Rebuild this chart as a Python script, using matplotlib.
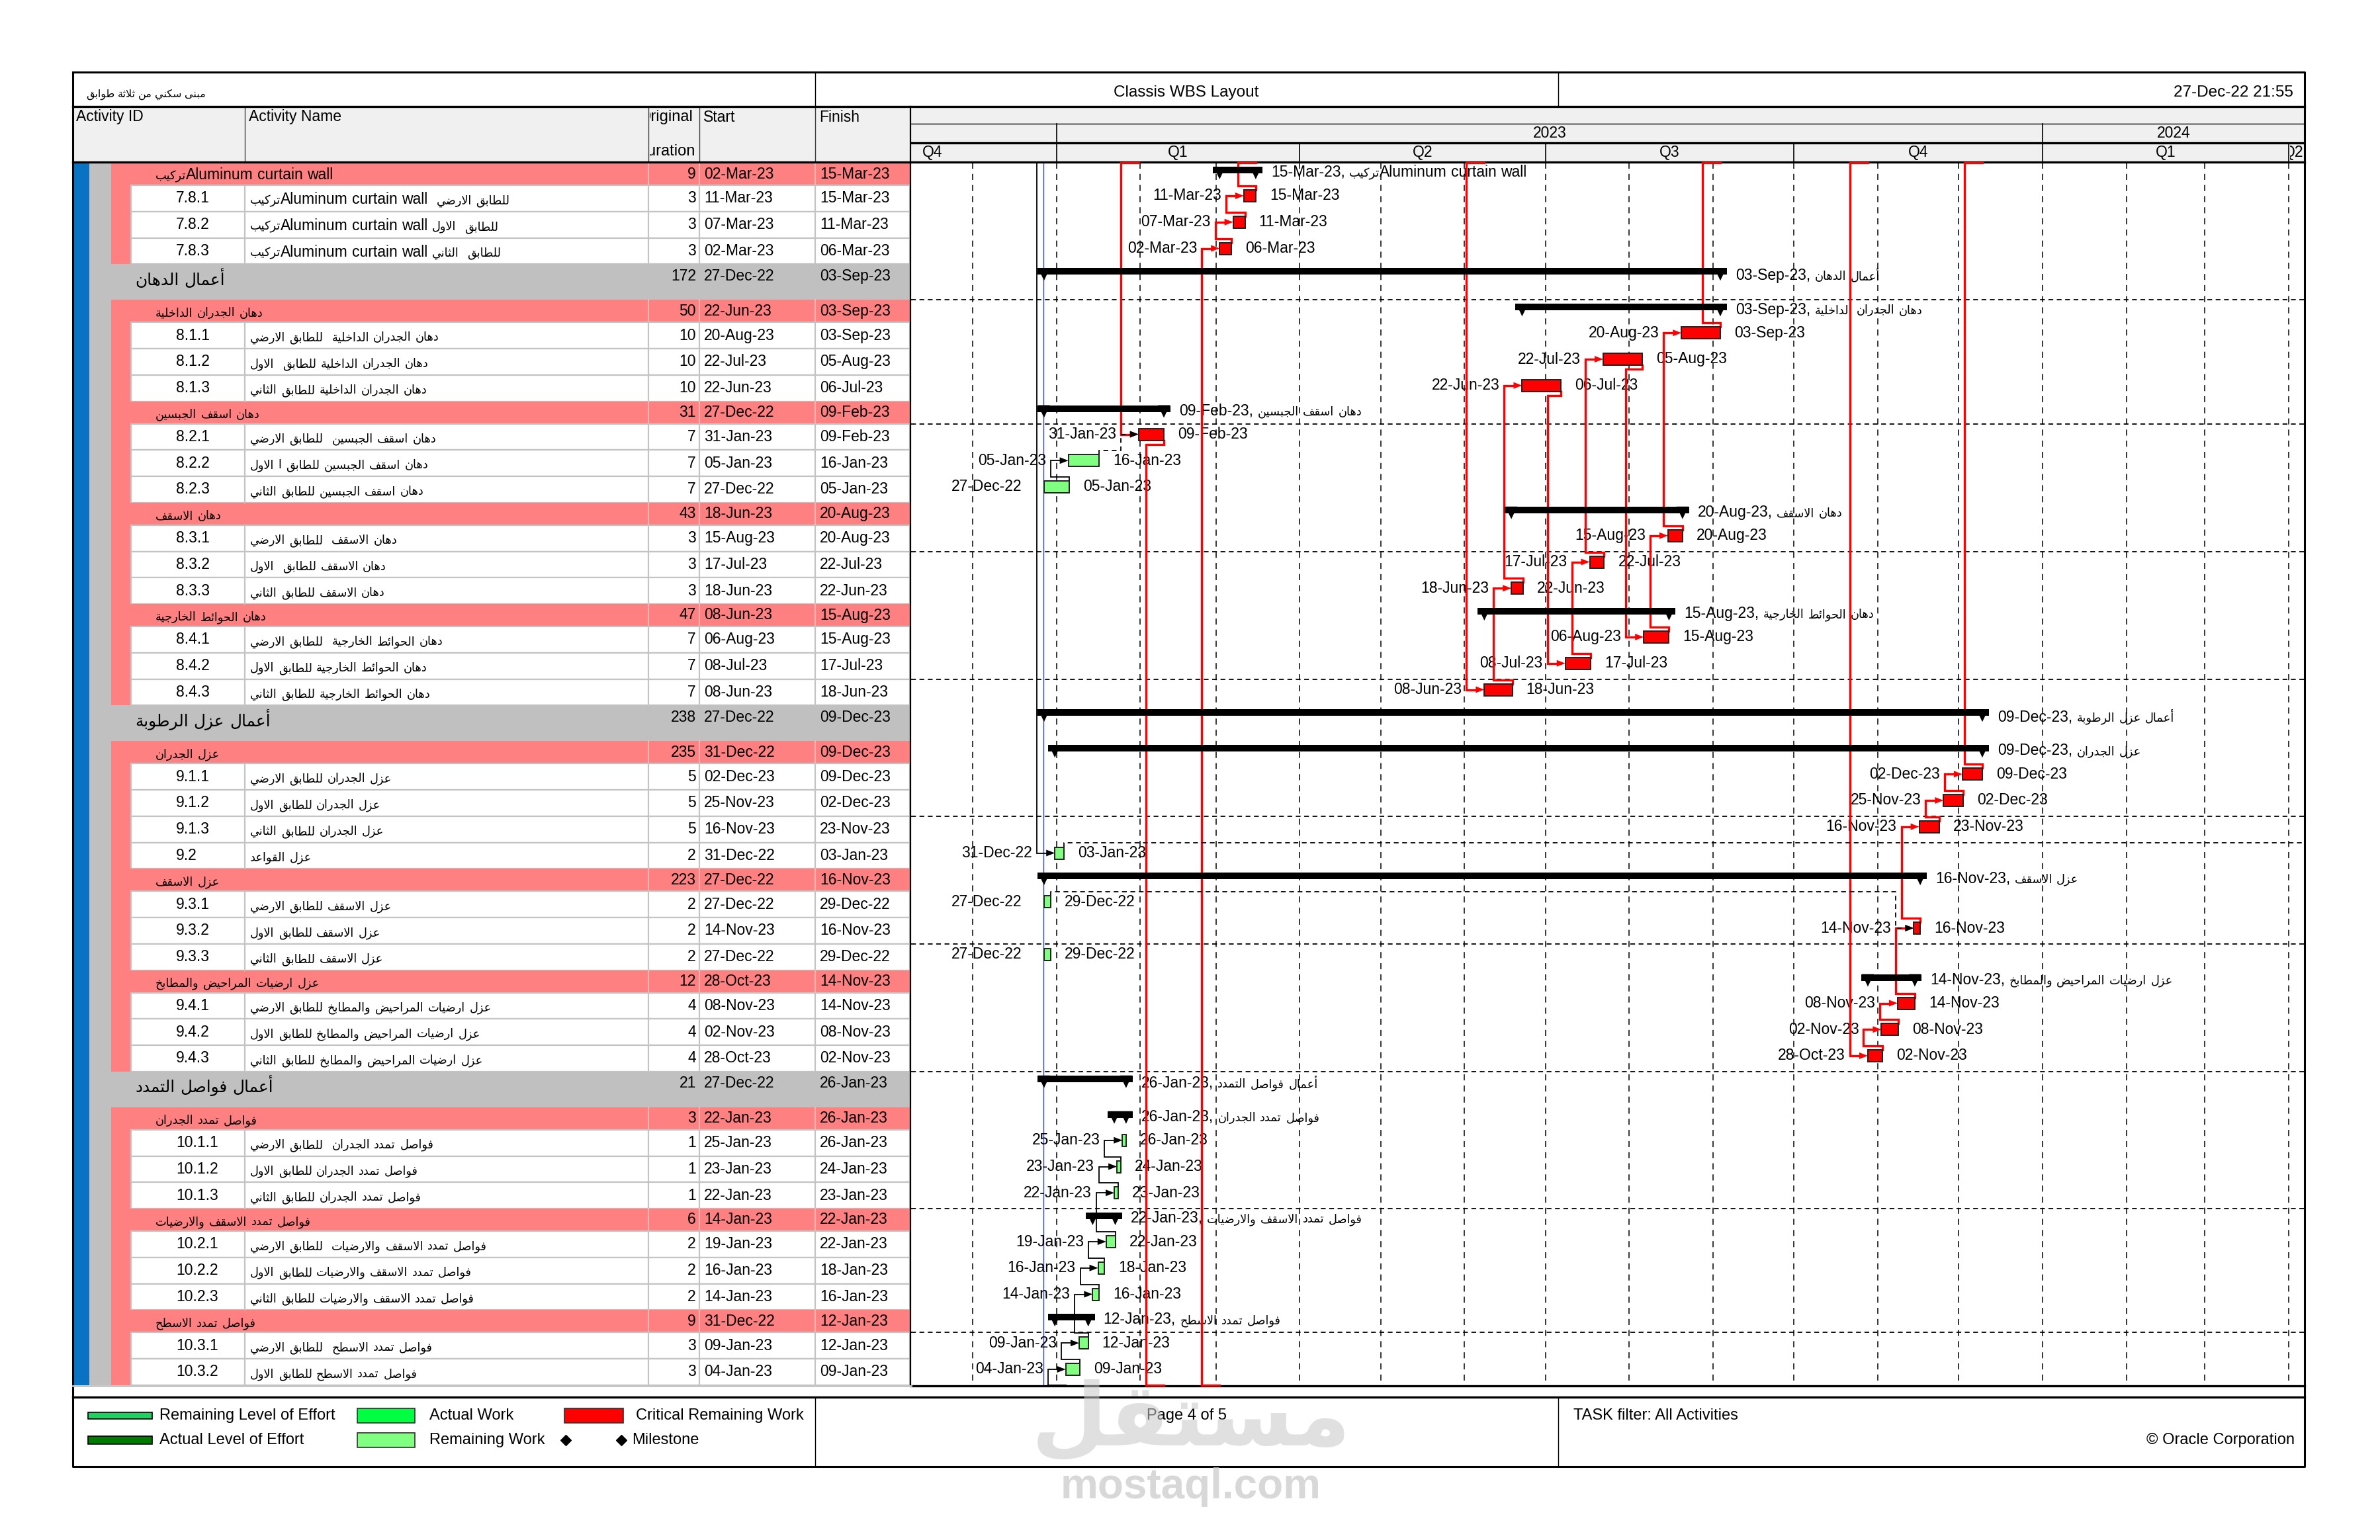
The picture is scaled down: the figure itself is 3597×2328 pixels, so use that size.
import matplotlib
matplotlib.use("Agg")
import matplotlib.pyplot as plt
import matplotlib.dates as mdates
from matplotlib.patches import Rectangle, Polygon
from matplotlib.transforms import offset_copy
from datetime import datetime

plt.rcParams['font.family'] = ['Liberation Sans', 'DejaVu Sans']

# ---------------- data ----------------
kinds = ['grp', 'task', 'task', 'task',
         'wbs', 'grp', 'task', 'task', 'task', 'grp', 'task', 'task', 'task',
         'grp', 'task', 'task', 'task', 'grp', 'task', 'task', 'task',
         'wbs', 'grp', 'task', 'task', 'task', 'task', 'grp', 'task', 'task', 'task',
         'grp', 'task', 'task', 'task',
         'wbs', 'grp', 'task', 'task', 'task', 'grp', 'task', 'task', 'task',
         'grp', 'task', 'task']

ids = ['', '7.8.1', '7.8.2', '7.8.3',
       '', '', '8.1.1', '8.1.2', '8.1.3', '', '8.2.1', '8.2.2', '8.2.3',
       '', '8.3.1', '8.3.2', '8.3.3', '', '8.4.1', '8.4.2', '8.4.3',
       '', '', '9.1.1', '9.1.2', '9.1.3', '9.2', '', '9.3.1', '9.3.2', '9.3.3',
       '', '9.4.1', '9.4.2', '9.4.3',
       '', '', '10.1.1', '10.1.2', '10.1.3', '', '10.2.1', '10.2.2', '10.2.3',
       '', '10.3.1', '10.3.2']

names = ['تركيبAluminum curtain wall',
         'تركيبAluminum curtain wall  للطابق الارضي',
         'تركيبAluminum curtain wall للطابق  الاول',
         'تركيبAluminum curtain wall للطابق  الثاني',
         'أعمال الدهان',
         'دهان الجدران الداخلية',
         'دهان الجدران الداخلية  للطابق الارضي',
         'دهان الجدران الداخلية للطابق  الاول',
         'دهان الجدران الداخلية للطابق الثاني',
         'دهان اسقف الجبسين',
         'دهان اسقف الجبسين  للطابق الارضي',
         'دهان اسقف الجبسين للطابق ا الاول',
         'دهان اسقف الجبسين للطابق الثاني',
         'دهان الاسقف',
         'دهان الاسقف  للطابق الارضي',
         'دهان الاسقف للطابق  الاول',
         'دهان الاسقف للطابق الثاني',
         'دهان الحوائط الخارجية',
         'دهان الحوائط الخارجية  للطابق الارضي',
         'دهان الحوائط الخارجية للطابق الاول',
         'دهان الحوائط الخارجية للطابق الثاني',
         'أعمال عزل الرطوبة',
         'عزل الجدران',
         'عزل الجدران للطابق الارضي',
         'عزل الجدران للطابق الاول',
         'عزل الجدران للطابق الثاني',
         'عزل القواعد',
         'عزل الاسقف',
         'عزل الاسقف للطابق الارضي',
         'عزل الاسقف للطابق الاول',
         'عزل الاسقف للطابق الثاني',
         'عزل ارضيات المراحيض والمطابخ',
         'عزل ارضيات المراحيض والمطابخ للطابق الارضي',
         'عزل ارضيات المراحيض والمطابخ للطابق الاول',
         'عزل ارضيات المراحيض والمطابخ للطابق الثاني',
         'أعمال فواصل التمدد',
         'فواصل تمدد الجدران',
         'فواصل تمدد الجدران  للطابق الارضي',
         'فواصل تمدد الجدران للطابق الاول',
         'فواصل تمدد الجدران للطابق الثاني',
         'فواصل تمدد الاسقف والارضيات',
         'فواصل تمدد الاسقف والارضيات  للطابق الارضي',
         'فواصل تمدد الاسقف والارضيات للطابق الاول',
         'فواصل تمدد الاسقف والارضيات للطابق الثاني',
         'فواصل تمدد الاسطح',
         'فواصل تمدد الاسطح  للطابق الارضي',
         'فواصل تمدد الاسطح للطابق الاول']

durations = [9, 3, 3, 3,
             172, 50, 10, 10, 10, 31, 7, 7, 7, 43, 3, 3, 3, 47, 7, 7, 7,
             238, 235, 5, 5, 5, 2, 223, 2, 2, 2, 12, 4, 4, 4,
             21, 3, 1, 1, 1, 6, 2, 2, 2, 9, 3, 3]

starts = ['02-Mar-23', '11-Mar-23', '07-Mar-23', '02-Mar-23',
          '27-Dec-22', '22-Jun-23', '20-Aug-23', '22-Jul-23', '22-Jun-23', '27-Dec-22',
          '31-Jan-23', '05-Jan-23', '27-Dec-22', '18-Jun-23', '15-Aug-23', '17-Jul-23',
          '18-Jun-23', '08-Jun-23', '06-Aug-23', '08-Jul-23', '08-Jun-23',
          '27-Dec-22', '31-Dec-22', '02-Dec-23', '25-Nov-23', '16-Nov-23', '31-Dec-22',
          '27-Dec-22', '27-Dec-22', '14-Nov-23', '27-Dec-22', '28-Oct-23', '08-Nov-23',
          '02-Nov-23', '28-Oct-23',
          '27-Dec-22', '22-Jan-23', '25-Jan-23', '23-Jan-23', '22-Jan-23', '14-Jan-23',
          '19-Jan-23', '16-Jan-23', '14-Jan-23', '31-Dec-22', '09-Jan-23', '04-Jan-23']

finishes = ['15-Mar-23', '15-Mar-23', '11-Mar-23', '06-Mar-23',
            '03-Sep-23', '03-Sep-23', '03-Sep-23', '05-Aug-23', '06-Jul-23', '09-Feb-23',
            '09-Feb-23', '16-Jan-23', '05-Jan-23', '20-Aug-23', '20-Aug-23', '22-Jul-23',
            '22-Jun-23', '15-Aug-23', '15-Aug-23', '17-Jul-23', '18-Jun-23',
            '09-Dec-23', '09-Dec-23', '09-Dec-23', '02-Dec-23', '23-Nov-23', '03-Jan-23',
            '16-Nov-23', '29-Dec-22', '16-Nov-23', '29-Dec-22', '14-Nov-23', '14-Nov-23',
            '08-Nov-23', '02-Nov-23',
            '26-Jan-23', '26-Jan-23', '26-Jan-23', '24-Jan-23', '23-Jan-23', '22-Jan-23',
            '22-Jan-23', '18-Jan-23', '16-Jan-23', '12-Jan-23', '12-Jan-23', '09-Jan-23']

is_critical = [False, True, True, True,
               False, False, True, True, True, False, True, False, False,
               False, True, True, True, False, True, True, True,
               False, False, True, True, True, False, False, False, True, False,
               False, True, True, True,
               False, False, False, False, False, False, False, False, False,
               False, False, False]

# relationships: (predecessor, successor, critical, dashed)
links = [('7.8.3', '7.8.2', True, False), ('7.8.2', '7.8.1', True, False),
         ('7.8.1', 'TOP', True, False), ('BOTTOM', '7.8.3', True, False),
         ('TOP', '8.2.1', True, False), ('8.2.1', 'BOTTOM', True, False),
         ('TOP', '8.4.3', True, False), ('8.4.3', '8.3.3', True, False),
         ('8.3.3', '8.1.3', True, False), ('8.1.3', '8.4.2', True, False),
         ('8.4.2', '8.3.2', True, False), ('8.3.2', '8.1.2', True, False),
         ('8.1.2', '8.4.1', True, False), ('8.4.1', '8.3.1', True, False),
         ('8.3.1', '8.1.1', True, False), ('8.1.1', 'TOP', True, False),
         ('TOP', '9.4.3', True, False), ('9.4.3', '9.4.2', True, False),
         ('9.4.2', '9.4.1', True, False), ('9.4.1', '9.3.2', True, False),
         ('9.3.2', '9.1.3', True, False), ('9.1.3', '9.1.2', True, False),
         ('9.1.2', '9.1.1', True, False), ('9.1.1', 'TOP', True, False),
         ('8.2.3', '8.2.2', False, False), ('8.2.2', '8.2.1', False, True),
         ('TOP', '9.2', False, False), ('9.2', 'RIGHT', False, True),
         ('9.3.1', '9.3.2', False, True),
         ('10.1.2', '10.1.1', False, False), ('10.1.3', '10.1.2', False, False),
         ('10.2.1', '10.1.3', False, False), ('10.2.2', '10.2.1', False, False),
         ('10.2.3', '10.2.2', False, False), ('10.3.1', '10.2.3', False, False),
         ('10.3.2', '10.3.1', False, False), ('BOTTOM', '10.3.2', False, False)]

data_date = '27-Dec-22'
quarters = ['Q4', 'Q1', 'Q2', 'Q3', 'Q4', 'Q1', 'Q2']
quarter_starts = ['01-Oct-22', '01-Jan-23', '01-Apr-23', '01-Jul-23', '01-Oct-23',
                  '01-Jan-24', '01-Apr-24', '01-Jul-24']
years = ['2023', '2024']
year_starts = ['01-Jan-23', '01-Jan-24', '01-Jan-25']

# ---------------- arabic shaping (presentation forms) ----------------
AR_FORMS = {
    '\u0621': (0xFE80, 1), '\u0622': (0xFE81, 2), '\u0623': (0xFE83, 2), '\u0624': (0xFE85, 2),
    '\u0625': (0xFE87, 2), '\u0626': (0xFE89, 4), '\u0627': (0xFE8D, 2), '\u0628': (0xFE8F, 4),
    '\u0629': (0xFE93, 2), '\u062A': (0xFE95, 4), '\u062B': (0xFE99, 4), '\u062C': (0xFE9D, 4),
    '\u062D': (0xFEA1, 4), '\u062E': (0xFEA5, 4), '\u062F': (0xFEA9, 2), '\u0630': (0xFEAB, 2),
    '\u0631': (0xFEAD, 2), '\u0632': (0xFEAF, 2), '\u0633': (0xFEB1, 4), '\u0634': (0xFEB5, 4),
    '\u0635': (0xFEB9, 4), '\u0636': (0xFEBD, 4), '\u0637': (0xFEC1, 4), '\u0638': (0xFEC5, 4),
    '\u0639': (0xFEC9, 4), '\u063A': (0xFECD, 4), '\u0641': (0xFED1, 4), '\u0642': (0xFED5, 4),
    '\u0643': (0xFED9, 4), '\u0644': (0xFEDD, 4), '\u0645': (0xFEE1, 4), '\u0646': (0xFEE5, 4),
    '\u0647': (0xFEE9, 4), '\u0648': (0xFEED, 2), '\u0649': (0xFEEF, 2), '\u064A': (0xFEF1, 4),
}
LAM_ALEF = {'\u0622': 0xFEF5, '\u0623': 0xFEF7, '\u0625': 0xFEF9, '\u0627': 0xFEFB}


def shape_ar(s):
    toks = []
    i = 0
    while i < len(s):
        c = s[i]
        if c == '\u0644' and i + 1 < len(s) and s[i + 1] in LAM_ALEF:
            toks.append(('la', s[i + 1]))
            i += 2
        else:
            toks.append(('c', c))
            i += 1

    def joins(t):
        if t[0] == 'la':
            return True, False
        f = AR_FORMS.get(t[1])
        if f is None:
            return False, False
        return f[1] > 1, f[1] == 4

    out = []
    for k, t in enumerate(toks):
        jp, jn = joins(t)
        before = k > 0 and joins(toks[k - 1])[1] and jp
        after = k + 1 < len(toks) and jn and joins(toks[k + 1])[0]
        if t[0] == 'la':
            out.append(chr(LAM_ALEF[t[1]] + (1 if before else 0)))
        elif t[1] in AR_FORMS:
            off = 3 if (before and after) else 1 if before else 2 if after else 0
            out.append(chr(AR_FORMS[t[1]][0] + off))
        else:
            out.append(t[1])
    return ''.join(out)


def is_rtl(c):
    o = ord(c)
    return 0x0600 <= o <= 0x06FF or 0xFB50 <= o <= 0xFEFF


def ar(s):
    s = shape_ar(s)
    n = len(s)
    cls = ['R' if is_rtl(c) else ('L' if c.isalnum() else 'N') for c in s]
    res = cls[:]
    i = 0
    while i < n:
        if cls[i] == 'N':
            j = i
            while j < n and cls[j] == 'N':
                j += 1
            prev = cls[i - 1] if i > 0 else 'L'
            nxt = cls[j] if j < n else 'L'
            d = 'R' if (prev == 'R' and nxt == 'R') else 'L'
            for k in range(i, j):
                res[k] = d
            i = j
        else:
            i += 1
    out = []
    i = 0
    while i < n:
        j = i
        while j < n and res[j] == res[i]:
            j += 1
        seg = s[i:j]
        out.append(seg[::-1] if res[i] == 'R' else seg)
        i = j
    return ''.join(out)


def d2n(s):
    return mdates.date2num(datetime.strptime(s, '%d-%b-%y'))


# ---------------- layout ----------------
W, H = 3598, 2328
X0, X1 = 110, 3483          # outer frame
GL, GR = 1377, 3483         # gantt area
ROW_Y0 = 246
RH = {'wbs': 54, 'grp': 34, 'task': 39.75}
BLUE, GRAY, PINK, HDR = '#0a72c2', '#c0c0c0', '#ff8080', '#f0f0f0'
RED, LGREEN = '#ff0000', '#80ff80'
FS = 16.5      # latin text
AFS = 12.8     # arabic text in mixed strings
PT = 100 / 72

n = len(kinds)
heights = [RH[k] for k in kinds]
tops = []
acc = 0
for h in heights:
    tops.append(acc)
    acc += h
total = acc

fig = plt.figure(figsize=(W / 100, H / 100), dpi=100)
renderer = fig.canvas.get_renderer()
ax = fig.add_axes([0, 0, 1, 1])
ax.set_xlim(0, W)
ax.set_ylim(H, 0)
ax.axis('off')


def put(axis, x, y, s, fs=FS, afs=AFS, dx=0, zorder=3, **kw):
    """left aligned text with arabic runs shaped and drawn at their own size"""
    runs = []
    for c in ar(s):
        kind = 'S' if c == ' ' else ('R' if is_rtl(c) else 'L')
        if runs and runs[-1][0] == kind:
            runs[-1][1] += c
        else:
            runs.append([kind, c])
    off = dx
    dy = -0.36 * fs * PT
    for kind, seg in runs:
        if kind == 'S':
            off += len(seg) * 0.278 * fs * PT
            continue
        tr = offset_copy(axis.transData, fig=fig, x=off, y=dy, units='dots')
        t = axis.text(x, y, seg, fontsize=afs if kind == 'R' else fs, ha='left',
                      va='baseline', transform=tr, zorder=zorder, **kw)
        off += t.get_window_extent(renderer).width


# ---- page title row ----
ax.add_patch(Rectangle((X0, 110), X1 - X0, 2107, fc='white', ec='none', zorder=0))
put(ax, 130, 141, 'مبنى سكني من ثلاثة طوابق', fs=11.5, afs=11.5)
ax.text(1793, 140, 'Classis WBS Layout', fontsize=17.5, va='center', ha='center')
ax.text(3466, 140, '27-Dec-22 21:55', fontsize=17.5, va='center', ha='right')
for x in (1232, 2355):
    ax.plot([x, x], [110, 161], color='black', lw=1)

# ---- column headers ----
ax.add_patch(Rectangle((X0, 161), X1 - X0, 84, fc=HDR, ec='none', zorder=1))
col_lines = [370, 980, 1057, 1232]
for x in col_lines:
    ax.plot([x, x], [161, 244], color='#404040', lw=1, zorder=2)
ax.text(115, 177, 'Activity ID', fontsize=FS, va='center', zorder=3)
ax.text(376, 177, 'Activity Name', fontsize=FS, va='center', zorder=3)
ax.text(1063, 177, 'Start', fontsize=FS, va='center', zorder=3)
ax.text(1238, 177, 'Finish', fontsize=FS, va='center', zorder=3)
clip = Rectangle((982, 161), 74, 84, transform=ax.transData)
for txt, xx, yy in (('Original', 966, 177), ('Duration', 961, 229)):
    t = ax.text(xx, yy, txt, fontsize=17, va='center', ha='left', zorder=3)
    t.set_clip_path(clip)
    t.set_clip_on(True)

# ---- table body ----
ax.add_patch(Rectangle((X0, ROW_Y0), 25, total, fc=BLUE, ec='none', zorder=1))
ax.add_patch(Rectangle((135, ROW_Y0), 33, total, fc=GRAY, ec='none', zorder=1))
TR = GL - 2
for i in range(n):
    y0 = ROW_Y0 + tops[i]
    h = heights[i]
    k = kinds[i]
    if k == 'wbs':
        ax.add_patch(Rectangle((135, y0), TR - 135, h, fc=GRAY, ec='none', zorder=1))
        put(ax, 204, y0 + 21, names[i], fs=21, afs=17.8)
        ty = y0 + 18
    elif k == 'grp':
        ax.add_patch(Rectangle((168, y0), TR - 168, h, fc=PINK, ec='none', zorder=1))
        for x in col_lines[1:]:
            ax.plot([x, x], [y0, y0 + h], color='#ffb4b4', lw=1.5, zorder=2)
        put(ax, 235, y0 + h / 2, names[i])
        ty = y0 + h / 2
    else:
        ax.add_patch(Rectangle((168, y0), 30, h, fc=PINK, ec='none', zorder=1))
        ax.add_patch(Rectangle((198, y0), TR - 198, h, fc='white', ec='#c4c4c4', lw=1.6, zorder=1))
        for x in col_lines:
            ax.plot([x, x], [y0, y0 + h], color='#c4c4c4', lw=1.6, zorder=2)
        ax.text(266, y0 + h / 2, ids[i], fontsize=FS, va='center', zorder=3)
        put(ax, 378, y0 + h / 2, names[i])
        ty = y0 + h / 2
    ax.text(1052, ty, str(durations[i]), fontsize=FS, va='center', ha='right', zorder=3)
    ax.text(1064, ty, starts[i], fontsize=FS, va='center', ha='left', zorder=3)
    ax.text(1239, ty, finishes[i], fontsize=FS, va='center', ha='left', zorder=3)

# ---- frame lines ----
ax.plot([X0, X1, X1, X0, X0], [109, 109, 2217, 2217, 109], color='black', lw=2.2, zorder=6)
ax.plot([X0, X1], [161, 161], color='black', lw=2.4, zorder=6)
ax.plot([X0, X1], [244.5, 244.5], color='black', lw=2.4, zorder=6)
ax.plot([GL - 1, GL - 1], [161, ROW_Y0 + total + 1], color='black', lw=1.6, zorder=6)
ax.plot([GL, X1], [ROW_Y0 + total + 1, ROW_Y0 + total + 1], color='black', lw=2.4, zorder=6)
ax.plot([X0, GL], [ROW_Y0 + total + 1, ROW_Y0 + total + 1], color='#c4c4c4', lw=2, zorder=6)
ax.plot([X0, X1], [2112, 2112], color='black', lw=2.4, zorder=6)
for x in (1232, 2355):
    ax.plot([x, x], [2112, 2217], color='black', lw=1, zorder=6)

# ---- legend ----
ax.add_patch(Rectangle((133, 2135), 97, 10, fc='#20d060', ec='black', lw=1.2))
ax.add_patch(Rectangle((133, 2171), 97, 12, fc='#007a00', ec='black', lw=1.2))
ax.add_patch(Rectangle((540, 2129), 87, 22, fc='#00ff40', ec='#303030', lw=1.2))
ax.add_patch(Rectangle((540, 2166), 87, 22, fc=LGREEN, ec='#303030', lw=1.2))
ax.add_patch(Rectangle((853, 2129), 89, 22, fc=RED, ec='#303030', lw=1.2))
ax.plot([855, 939], [2177, 2177], ls='none', marker='D', ms=8, color='black')
ax.text(241, 2140, 'Remaining Level of Effort', fontsize=17, va='center')
ax.text(241, 2177, 'Actual Level of Effort', fontsize=17, va='center')
ax.text(649, 2140, 'Actual Work', fontsize=17, va='center')
ax.text(649, 2177, 'Remaining Work', fontsize=17, va='center')
ax.text(961, 2140, 'Critical Remaining Work', fontsize=17, va='center')
ax.text(955, 2177, 'Milestone', fontsize=17, va='center')
ax.text(1794, 2140, 'Page 4 of 5', fontsize=17, va='center', ha='center')
ax.text(2378, 2140, 'TASK filter: All Activities', fontsize=17, va='center')
ax.text(3468, 2177, '\u00a9 Oracle Corporation', fontsize=17, va='center', ha='right')

# ---------------- gantt ----------------
xmin = mdates.date2num(datetime(2022, 11, 8, 3))
xmax = mdates.date2num(datetime(2024, 4, 7, 0))
px_day = (GR - GL) / (xmax - xmin)


def px(p):
    return p / px_day


gx = fig.add_axes([GL / W, 1 - (ROW_Y0 + total) / H, (GR - GL) / W, total / H])
gx.set_xlim(xmin, xmax)
gx.set_ylim(total, 0)
gx.axis('off')

# timescale header
tx = fig.add_axes([GL / W, 1 - 245 / H, (GR - GL) / W, 84 / H])
tx.set_xlim(xmin, xmax)
tx.set_ylim(84, 0)
tx.axis('off')
tx.plot([xmin, xmax], [26, 26], color='black', lw=1)
tx.plot([xmin, xmax], [55, 55], color='black', lw=2.4)
qs = [d2n(s) for s in quarter_starts]
for q, a, b in zip(quarters, qs[:-1], qs[1:]):
    if xmin < a < xmax:
        tx.plot([a, a], [55, 84], color='black', lw=1.2)
    if b > xmax:
        t = tx.text(xmax - px(2), 70, q, fontsize=16.5, ha='right', va='center')
        t.set_clip_path(Rectangle((a + px(2), 55), xmax - a, 29, transform=tx.transData))
        t.set_clip_on(True)
    else:
        tx.text((a + b) / 2, 70, q, fontsize=16.5, ha='center', va='center')
ys_ = [d2n(s) for s in year_starts]
for yl, a, b in zip(years, ys_[:-1], ys_[1:]):
    if xmin < a < xmax:
        tx.plot([a, a], [26, 55], color='black', lw=1.2)
    mid = (a + b) / 2
    if not (xmin < mid < xmax):
        mid = (max(a, xmin) + min(b, xmax)) / 2
    tx.text(mid, 41, yl, fontsize=16.5, ha='center', va='center')

# gridlines
for m in mdates.MonthLocator().tick_values(mdates.num2date(xmin), mdates.num2date(xmax)):
    if xmin < m < xmax:
        gx.plot([m, m], [0, total], color='black', lw=1.1, ls=(0, (6, 5)), zorder=1)
for i in range(5, n, 5):
    gx.plot([xmin, xmax], [tops[i], tops[i]], color='black', lw=1.3, ls=(0, (4, 3)), zorder=1)
dd = d2n(data_date)
gx.plot([dd, dd], [0, total], color='#2040ff', lw=1, zorder=2)

sx = [d2n(s) + 8 / 24 for s in starts]
fx = [d2n(f) + 17 / 24 for f in finishes]

lab_l = offset_copy(gx.transData, fig=fig, x=-34, y=0, units='dots')
lab_r = offset_copy(gx.transData, fig=fig, x=21, y=0, units='dots')

for i in range(n):
    t0 = tops[i]
    if kinds[i] == 'task':
        col = RED if is_critical[i] else LGREEN
        gx.add_patch(Rectangle((sx[i], t0 + 7), fx[i] - sx[i], 18, fc=col, ec='#202020',
                               lw=1.4, zorder=6))
        gx.text(sx[i], t0 + 16, starts[i], fontsize=FS, ha='right', va='center',
                transform=lab_l, zorder=4)
        gx.text(fx[i], t0 + 16, finishes[i], fontsize=FS, ha='left', va='center',
                transform=lab_r, zorder=4)
    else:
        gx.add_patch(Rectangle((sx[i] - px(10), t0 + 6), fx[i] - sx[i] + px(20), 10,
                               fc='black', ec='none', zorder=6))
        for x in (sx[i], fx[i]):
            gx.add_patch(Polygon([(x - px(9), t0 + 6), (x + px(9), t0 + 6), (x, t0 + 25)],
                                 closed=True, fc='black', ec='none', zorder=6))
        ly = t0 + (16 if kinds[i] == 'wbs' else 13)
        put(gx, fx[i], ly, finishes[i] + ', ' + names[i], dx=23, zorder=4)

# relationship lines
row_of = {ids[i]: i for i in range(n) if ids[i]}
LANE, ALEN = px(27), px(13)
for pred, succ, crit, dashed in links:
    col = RED if crit else 'black'
    lw = 2.4 if crit else 1.3
    ls = (0, (4, 3)) if dashed else '-'
    arrow = None
    if pred in ('TOP', 'BOTTOM'):
        j = row_of[succ]
        ye = 0 if pred == 'TOP' else total
        yc = tops[j] + 16
        xs = [sx[j], sx[j] - LANE, sx[j] - LANE, sx[j] - ALEN]
        ys = [ye, ye, yc, yc]
        arrow = (sx[j], yc)
    elif succ in ('TOP', 'BOTTOM', 'RIGHT'):
        i = row_of[pred]
        f = fx[i]
        if succ == 'TOP':
            yg = tops[i] + 1
            xs = [f, f, f - LANE, f - LANE, f]
            ys = [tops[i] + 7, yg, yg, 0, 0]
        elif succ == 'BOTTOM':
            yg = tops[i] + 31
            xs = [f, f, f - LANE, f - LANE, f]
            ys = [tops[i] + 25, yg, yg, total, total]
        else:
            xs = [f, f, xmax]
            ys = [tops[i] + 7, tops[i], tops[i]]
    else:
        i, j = row_of[pred], row_of[succ]
        yc = tops[j] + 16
        if dashed or j < i:
            y0, yg = tops[i] + 7, tops[i] + 1
        else:
            y0, yg = tops[i] + 25, tops[i] + 31
        xs = [fx[i], fx[i], sx[j] - LANE, sx[j] - LANE, sx[j] - ALEN]
        ys = [y0, yg, yg, yc, yc]
        arrow = (sx[j], yc)
    gx.plot(xs, ys, color=col, lw=lw, ls=ls, zorder=5, clip_on=False,
            solid_joinstyle='miter')
    if arrow is not None:
        ax_, ay_ = arrow
        gx.add_patch(Polygon([(ax_ - ALEN, ay_ - 5), (ax_ - ALEN, ay_ + 5), (ax_, ay_)],
                             closed=True, fc=col, ec='none', zorder=5))

# watermark
ax.text(1800, 2150, ar('مستقل'), fontsize=95, fontweight='bold', color='#c8c8c8',
        alpha=0.55, ha='center', va='center', zorder=10)
ax.text(1800, 2248, 'mostaql.com', fontsize=46, fontweight='bold', color='#c8c8c8',
        alpha=0.7, ha='center', va='center', zorder=10)

fig.savefig('out.png', dpi=100)
